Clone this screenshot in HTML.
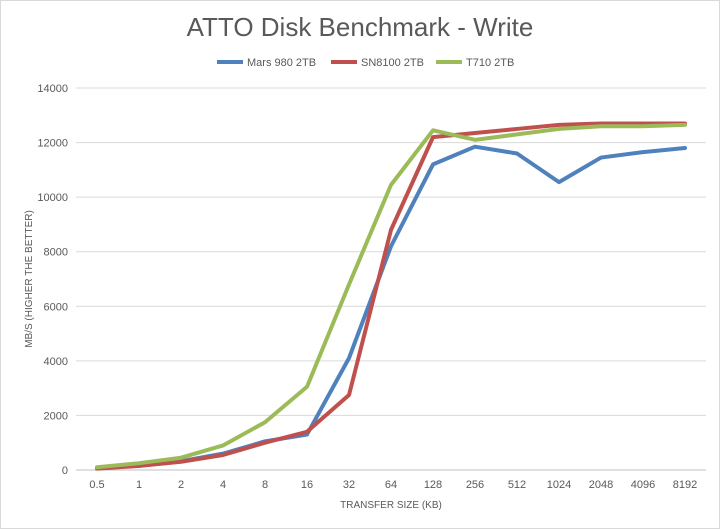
<!DOCTYPE html>
<html><head><meta charset="utf-8"><style>
body{margin:0;background:#fff}
svg{display:block;font-family:"Liberation Sans",sans-serif}
</style></head><body>
<svg id="chart" width="720" height="529">
<rect x="0.5" y="0.5" width="719" height="528" fill="#fff" stroke="#d9d9d9"/>
<text x="360" y="36" text-anchor="middle" font-size="26" fill="#595959">ATTO Disk Benchmark - Write</text>
<g id="legend"></g>
<g id="grid"></g><g id="axes"></g><g id="series"></g>
<text transform="translate(32,279) rotate(-90)" text-anchor="middle" font-size="10" fill="#595959">MB/S (HIGHER THE BETTER)</text>
<text x="391" y="508" text-anchor="middle" font-size="10" fill="#595959">TRANSFER SIZE (KB)</text>
</svg>
<script>
const categories=["0.5","1","2","4","8","16","32","64","128","256","512","1024","2048","4096","8192"];
const seriesNames=["Mars 980 2TB","SN8100 2TB","T710 2TB"];
const mars=[80,150,320,600,1050,1300,4100,8200,11200,11850,11600,10550,11450,11650,11800];
const sn8100=[50,150,300,550,1000,1400,2750,8800,12200,12350,12500,12650,12700,12700,12700];
const t710=[100,250,450,900,1750,3050,6800,10450,12450,12100,12300,12500,12600,12600,12650];
const yTicks=[0,2000,4000,6000,8000,10000,12000,14000];
const colors=["#4f81bd","#c0504d","#9bbb59"];
const NS="http://www.w3.org/2000/svg";
const L=76,R=706,T=88,B=470,yMax=14000;
const step=(R-L)/categories.length;
const xs=i=>L+step*(i+0.5);
const ys=v=>B-(v/yMax)*(B-T);
function mk(tag,attrs,parent){const e=document.createElementNS(NS,tag);for(const k in attrs)e.setAttribute(k,attrs[k]);parent.appendChild(e);return e;}
const grid=document.getElementById('grid'),axes=document.getElementById('axes'),ser=document.getElementById('series'),leg=document.getElementById('legend');
yTicks.forEach(t=>{
 const l=mk('line',{x1:L,x2:R,y1:ys(t),y2:ys(t),stroke:t===0?'#bfbfbf':'#d9d9d9'},grid);
 
 
 const tx=mk('text',{x:L-8,y:ys(t)+4,'text-anchor':'end','font-size':11,fill:'#595959'},axes);
 tx.textContent=t;
 
 
});
categories.forEach((c,i)=>{
 const tx=mk('text',{x:xs(i),y:B+18,'text-anchor':'middle','font-size':11,fill:'#595959'},axes);
 tx.textContent=c;
 
 
});
[mars,sn8100,t710].forEach((d,si)=>{
 const p=mk('polyline',{points:d.map((v,i)=>xs(i)+','+ys(v)).join(' '),fill:'none',stroke:colors[si],'stroke-width':4,'stroke-linejoin':'round','stroke-linecap':'round'},ser);
 
 
});
const lx=[217,331,436];
seriesNames.forEach((n,i)=>{
 const l=mk('line',{x1:lx[i],x2:lx[i]+26,y1:62,y2:62,stroke:colors[i],'stroke-width':4},leg);
 
 
 const t=mk('text',{x:lx[i]+30,y:66,'font-size':11,fill:'#595959'},leg);
 t.textContent=n;
 
 
});
</script>
</body></html>
